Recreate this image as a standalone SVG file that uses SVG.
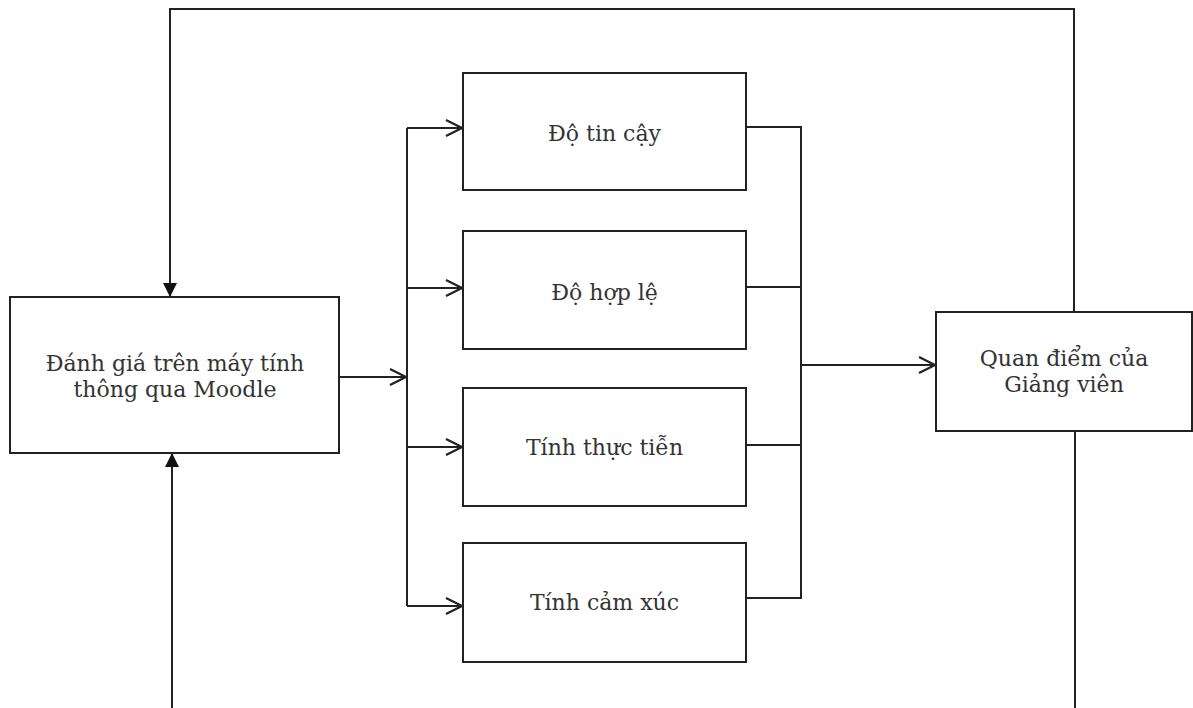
<svg xmlns="http://www.w3.org/2000/svg" width="1193" height="708" viewBox="0 0 1193 708">
<style>
.box{fill:#fff;stroke:#222;stroke-width:2}
.ln{fill:none;stroke:#222;stroke-width:2}
.t{font-family:"DejaVu Serif","Liberation Serif",serif;font-size:22px;fill:#333;text-anchor:middle}
</style>
<defs>
<marker id="open" viewBox="0 0 18 18" refX="17" refY="9" markerWidth="18" markerHeight="18" markerUnits="userSpaceOnUse" orient="auto">
<path d="M1,1 L17,9 L1,17" fill="none" stroke="#222" stroke-width="2.2"/>
</marker>
<marker id="fill" viewBox="0 0 14 14" refX="13" refY="7" markerWidth="14" markerHeight="14" markerUnits="userSpaceOnUse" orient="auto">
<path d="M0,0 L14,7 L0,14 Z" fill="#111"/>
</marker>
</defs>
<rect width="1193" height="708" fill="#fff"/>
<g id="connectors">
<path class="ln" d="M1074,312 V9 H170 V296" marker-end="url(#fill)"/>
<path class="ln" d="M1075,431 V708"/>
<path class="ln" d="M172,708 V454" marker-end="url(#fill)"/>
<path class="ln" d="M339,377 H406" marker-end="url(#open)"/>
<path class="ln" d="M407,128 V606"/>
<path class="ln" d="M407,128 H462" marker-end="url(#open)"/>
<path class="ln" d="M407,288 H462" marker-end="url(#open)"/>
<path class="ln" d="M407,447 H462" marker-end="url(#open)"/>
<path class="ln" d="M407,606 H462" marker-end="url(#open)"/>
<path class="ln" d="M746,127 H801 V598 H746"/>
<path class="ln" d="M746,287 H801"/>
<path class="ln" d="M746,445 H801"/>
<path class="ln" d="M801,365 H935" marker-end="url(#open)"/>
</g>
<g id="n-moodle">
<rect class="box" x="10" y="297" width="329" height="156"/>
<text class="t" x="175" y="371">Đánh giá trên máy tính</text>
<text class="t" x="175" y="397">thông qua Moodle</text>
</g>
<g id="n-tincay">
<rect class="box" x="463" y="73" width="283" height="117"/>
<text class="t" x="604.5" y="141">Độ tin cậy</text>
</g>
<g id="n-hople">
<rect class="box" x="463" y="231" width="283" height="118"/>
<text class="t" x="604.5" y="300">Độ hợp lệ</text>
</g>
<g id="n-thuctien">
<rect class="box" x="463" y="388" width="283" height="118"/>
<text class="t" x="604.5" y="455">Tính thực tiễn</text>
</g>
<g id="n-camxuc">
<rect class="box" x="463" y="543" width="283" height="119"/>
<text class="t" x="604.5" y="610">Tính cảm xúc</text>
</g>
<g id="n-giangvien">
<rect class="box" x="936" y="312" width="256" height="119"/>
<text class="t" x="1064" y="366">Quan điểm của</text>
<text class="t" x="1064" y="392">Giảng viên</text>
</g>
</svg>
